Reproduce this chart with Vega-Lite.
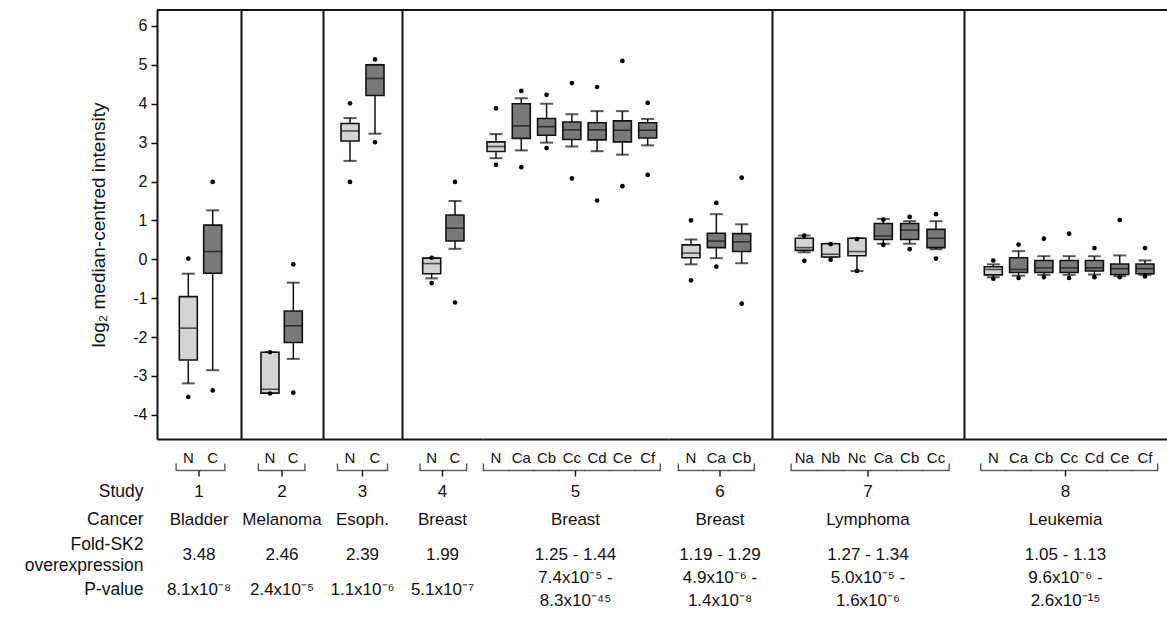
{
"$schema": "https://vega.github.io/schema/vega-lite/v6.json",
"padding": {"left": 24, "top": 9, "right": 0, "bottom": 0},
"background": "white",
"config": {"view": {"stroke": null}, "font": "Liberation Sans", "axis": {"grid": false}},
"datasets": {
"boxes": [
{"study":1,"group":"N","tissue":"Normal","lo":-3.19,"q1":-2.59,"med":-1.77,"q3":-0.96,"hi":-0.37,"olo":-3.54,"ohi":0.02},
{"study":1,"group":"C","tissue":"Cancer","lo":-2.85,"q1":-0.36,"med":0.2,"q3":0.88,"hi":1.26,"olo":-3.37,"ohi":1.99},
{"study":2,"group":"N","tissue":"Normal","lo":-3.44,"q1":-3.44,"med":-3.34,"q3":-2.39,"hi":-2.39,"olo":-3.45,"ohi":-2.39},
{"study":2,"group":"C","tissue":"Cancer","lo":-2.56,"q1":-2.14,"med":-1.71,"q3":-1.33,"hi":-0.6,"olo":-3.43,"ohi":-0.13},
{"study":3,"group":"N","tissue":"Normal","lo":2.53,"q1":3.04,"med":3.3,"q3":3.49,"hi":3.63,"olo":1.99,"ohi":4.01},
{"study":3,"group":"C","tissue":"Cancer","lo":3.23,"q1":4.21,"med":4.65,"q3":5.0,"hi":5.0,"olo":3.01,"ohi":5.14},
{"study":4,"group":"N","tissue":"Normal","lo":-0.49,"q1":-0.37,"med":-0.11,"q3":0.03,"hi":0.03,"olo":-0.61,"ohi":0.04},
{"study":4,"group":"C","tissue":"Cancer","lo":0.27,"q1":0.47,"med":0.8,"q3":1.14,"hi":1.5,"olo":-1.11,"ohi":1.99},
{"study":5,"group":"N","tissue":"Normal","lo":2.6,"q1":2.77,"med":2.9,"q3":3.02,"hi":3.22,"olo":2.43,"ohi":3.88},
{"study":5,"group":"Ca","tissue":"Cancer","lo":2.8,"q1":3.11,"med":3.43,"q3":4.0,"hi":4.14,"olo":2.37,"ohi":4.33},
{"study":5,"group":"Cb","tissue":"Cancer","lo":3.0,"q1":3.19,"med":3.41,"q3":3.62,"hi":4.0,"olo":2.86,"ohi":4.23},
{"study":5,"group":"Cc","tissue":"Cancer","lo":2.9,"q1":3.08,"med":3.33,"q3":3.53,"hi":3.73,"olo":2.08,"ohi":4.53},
{"study":5,"group":"Cd","tissue":"Cancer","lo":2.78,"q1":3.07,"med":3.33,"q3":3.51,"hi":3.81,"olo":1.51,"ohi":4.43},
{"study":5,"group":"Ce","tissue":"Cancer","lo":2.69,"q1":3.02,"med":3.32,"q3":3.56,"hi":3.81,"olo":1.88,"ohi":5.1},
{"study":5,"group":"Cf","tissue":"Cancer","lo":2.93,"q1":3.12,"med":3.32,"q3":3.51,"hi":3.61,"olo":2.17,"ohi":4.02},
{"study":6,"group":"N","tissue":"Normal","lo":-0.13,"q1":0.04,"med":0.16,"q3":0.37,"hi":0.51,"olo":-0.54,"ohi":1.0},
{"study":6,"group":"Ca","tissue":"Cancer","lo":0.03,"q1":0.3,"med":0.47,"q3":0.67,"hi":1.16,"olo":-0.19,"ohi":1.45},
{"study":6,"group":"Cb","tissue":"Cancer","lo":-0.1,"q1":0.2,"med":0.45,"q3":0.66,"hi":0.9,"olo":-1.14,"ohi":2.1},
{"study":7,"group":"Na","tissue":"Normal","lo":0.18,"q1":0.23,"med":0.3,"q3":0.54,"hi":0.61,"olo":-0.04,"ohi":0.61},
{"study":7,"group":"Nb","tissue":"Normal","lo":0.06,"q1":0.06,"med":0.13,"q3":0.4,"hi":0.4,"olo":-0.01,"ohi":0.39},
{"study":7,"group":"Nc","tissue":"Normal","lo":-0.3,"q1":0.09,"med":0.2,"q3":0.54,"hi":0.54,"olo":-0.3,"ohi":0.52},
{"study":7,"group":"Ca","tissue":"Cancer","lo":0.4,"q1":0.51,"med":0.6,"q3":0.92,"hi":1.04,"olo":0.37,"ohi":1.02},
{"study":7,"group":"Cb","tissue":"Cancer","lo":0.4,"q1":0.51,"med":0.75,"q3":0.92,"hi":0.98,"olo":0.26,"ohi":1.09},
{"study":7,"group":"Cc","tissue":"Cancer","lo":0.26,"q1":0.3,"med":0.54,"q3":0.77,"hi":0.98,"olo":0.02,"ohi":1.16},
{"study":8,"group":"N","tissue":"Normal","lo":-0.46,"q1":-0.4,"med":-0.26,"q3":-0.19,"hi":-0.13,"olo":-0.5,"ohi":-0.03},
{"study":8,"group":"Ca","tissue":"Cancer","lo":-0.42,"q1":-0.34,"med":-0.26,"q3":0.04,"hi":0.21,"olo":-0.48,"ohi":0.38},
{"study":8,"group":"Cb","tissue":"Cancer","lo":-0.4,"q1":-0.34,"med":-0.22,"q3":-0.03,"hi":0.08,"olo":-0.46,"ohi":0.53},
{"study":8,"group":"Cc","tissue":"Cancer","lo":-0.4,"q1":-0.34,"med":-0.22,"q3":-0.03,"hi":0.08,"olo":-0.48,"ohi":0.66},
{"study":8,"group":"Cd","tissue":"Cancer","lo":-0.39,"q1":-0.3,"med":-0.22,"q3":-0.03,"hi":0.08,"olo":-0.46,"ohi":0.29},
{"study":8,"group":"Ce","tissue":"Cancer","lo":-0.43,"q1":-0.39,"med":-0.24,"q3":-0.12,"hi":0.1,"olo":-0.46,"ohi":1.01},
{"study":8,"group":"Cf","tissue":"Cancer","lo":-0.4,"q1":-0.37,"med":-0.24,"q3":-0.12,"hi":-0.03,"olo":-0.44,"ohi":0.29}
],
"table": [
{"study":1,"row":"Study","text":"1"},{"study":1,"row":"Cancer","text":"Bladder"},{"study":1,"row":"Fold","text":"3.48"},{"study":1,"row":"P","text":"8.1x10⁻⁸"},
{"study":2,"row":"Study","text":"2"},{"study":2,"row":"Cancer","text":"Melanoma"},{"study":2,"row":"Fold","text":"2.46"},{"study":2,"row":"P","text":"2.4x10⁻⁵"},
{"study":3,"row":"Study","text":"3"},{"study":3,"row":"Cancer","text":"Esoph."},{"study":3,"row":"Fold","text":"2.39"},{"study":3,"row":"P","text":"1.1x10⁻⁶"},
{"study":4,"row":"Study","text":"4"},{"study":4,"row":"Cancer","text":"Breast"},{"study":4,"row":"Fold","text":"1.99"},{"study":4,"row":"P","text":"5.1x10⁻⁷"},
{"study":5,"row":"Study","text":"5"},{"study":5,"row":"Cancer","text":"Breast"},{"study":5,"row":"Fold","text":"1.25 - 1.44"},{"study":5,"row":"P","text":"7.4x10⁻⁵ -|8.3x10⁻⁴⁵"},
{"study":6,"row":"Study","text":"6"},{"study":6,"row":"Cancer","text":"Breast"},{"study":6,"row":"Fold","text":"1.19 - 1.29"},{"study":6,"row":"P","text":"4.9x10⁻⁶ -|1.4x10⁻⁸"},
{"study":7,"row":"Study","text":"7"},{"study":7,"row":"Cancer","text":"Lymphoma"},{"study":7,"row":"Fold","text":"1.27 - 1.34"},{"study":7,"row":"P","text":"5.0x10⁻⁵ -|1.6x10⁻⁶"},
{"study":8,"row":"Study","text":"8"},{"study":8,"row":"Cancer","text":"Leukemia"},{"study":8,"row":"Fold","text":"1.05 - 1.13"},{"study":8,"row":"P","text":"9.6x10⁻⁶ -|2.6x10⁻¹⁵"}
]
},
"columns": 8,
"align": "each",
"bounds": "flush",
"spacing": {"row": 0, "column": 0},
"concat": [
{"width": 84, "height": 429, "data": {"name": "boxes"}, "transform": [{"filter": "datum.study == 1"}], "resolve": {"axis": {"x": "independent", "y": "independent"}},
 "layer": [
  {"mark": {"type": "rule", "color": "#111", "strokeWidth": 1.5}, "encoding": {"x": {"field": "group", "type": "nominal", "scale": {"domain": ["N","C"], "paddingInner": 0, "paddingOuter": 0.7213, "align": 0.5426}, "axis": {"title": null, "labelAngle": 0, "labelFontSize": 15, "labelColor": "#111", "labelPadding": 11, "ticks": false, "tickSize": 0, "domainColor": "#111", "domainWidth": 2}}, "y": {"field": "lo", "type": "quantitative", "scale": {"domain": [-4.62, 6.41], "nice": false, "zero": false}, "axis": {"values": [-4,-3,-2,-1,0,1,2,3,4,5,6], "labelExpr": "'' + datum.value", "title": "log₂ median-centred intensity", "titleFontSize": 19, "titleFontWeight": "normal", "titleColor": "#111", "titlePadding": 24, "labelFontSize": 16, "labelColor": "#111", "labelPadding": 4, "tickSize": 6, "tickColor": "#111", "tickWidth": 1.5, "domainColor": "#111", "domainWidth": 2}}, "y2": {"field": "hi"}}},
  {"mark": {"type": "tick", "orient": "horizontal", "size": 13, "thickness": 2, "color": "#111"}, "encoding": {"x": {"field": "group", "type": "nominal", "axis": null}, "y": {"field": "lo", "type": "quantitative", "axis": null}}},
  {"mark": {"type": "tick", "orient": "horizontal", "size": 13, "thickness": 2, "color": "#111"}, "encoding": {"x": {"field": "group", "type": "nominal", "axis": null}, "y": {"field": "hi", "type": "quantitative", "axis": null}}},
  {"mark": {"type": "bar", "width": 18, "stroke": "#111", "strokeWidth": 1.6}, "encoding": {"x": {"field": "group", "type": "nominal", "axis": null}, "y": {"field": "q1", "type": "quantitative", "axis": null}, "y2": {"field": "q3"}, "fill": {"field": "tissue", "type": "nominal", "scale": {"domain": ["Normal","Cancer"], "range": ["#d3d3d3","#797979"]}, "legend": null}}},
  {"mark": {"type": "tick", "orient": "horizontal", "size": 18, "thickness": 1.6, "color": "#111"}, "encoding": {"x": {"field": "group", "type": "nominal", "axis": null}, "y": {"field": "med", "type": "quantitative", "axis": null}}},
  {"mark": {"type": "circle", "size": 22, "color": "#000", "opacity": 1}, "encoding": {"x": {"field": "group", "type": "nominal", "axis": null}, "y": {"field": "ohi", "type": "quantitative", "axis": null}}},
  {"mark": {"type": "circle", "size": 22, "color": "#000", "opacity": 1}, "encoding": {"x": {"field": "group", "type": "nominal", "axis": null}, "y": {"field": "olo", "type": "quantitative", "axis": null}}},
  {"transform": [{"aggregate": [{"op": "count", "as": "n"}]}], "mark": {"type": "rule", "color": "#111", "strokeWidth": 2}, "encoding": {"y": {"datum": 6.41, "type": "quantitative", "axis": null}}}
 ]},
{"width": 82, "height": 429, "data": {"name": "boxes"}, "transform": [{"filter": "datum.study == 2"}], "resolve": {"axis": {"x": "independent", "y": "independent"}},
 "layer": [
  {"mark": {"type": "rule", "color": "#111", "strokeWidth": 1.5}, "encoding": {"x": {"field": "group", "type": "nominal", "scale": {"domain": ["N","C"], "paddingInner": 0, "paddingOuter": 0.7597, "align": 0.49}, "axis": {"title": null, "labelAngle": 0, "labelFontSize": 15, "labelColor": "#111", "labelPadding": 11, "ticks": false, "tickSize": 0, "domainColor": "#111", "domainWidth": 2}}, "y": {"field": "lo", "type": "quantitative", "scale": {"domain": [-4.62, 6.41], "nice": false, "zero": false}, "axis": {"labels": false, "ticks": false, "title": null, "domainColor": "#111", "domainWidth": 2}}, "y2": {"field": "hi"}}},
  {"mark": {"type": "tick", "orient": "horizontal", "size": 13, "thickness": 2, "color": "#111"}, "encoding": {"x": {"field": "group", "type": "nominal", "axis": null}, "y": {"field": "lo", "type": "quantitative", "axis": null}}},
  {"mark": {"type": "tick", "orient": "horizontal", "size": 13, "thickness": 2, "color": "#111"}, "encoding": {"x": {"field": "group", "type": "nominal", "axis": null}, "y": {"field": "hi", "type": "quantitative", "axis": null}}},
  {"mark": {"type": "bar", "width": 18, "stroke": "#111", "strokeWidth": 1.6}, "encoding": {"x": {"field": "group", "type": "nominal", "axis": null}, "y": {"field": "q1", "type": "quantitative", "axis": null}, "y2": {"field": "q3"}, "fill": {"field": "tissue", "type": "nominal", "scale": {"domain": ["Normal","Cancer"], "range": ["#d3d3d3","#797979"]}, "legend": null}}},
  {"mark": {"type": "tick", "orient": "horizontal", "size": 18, "thickness": 1.6, "color": "#111"}, "encoding": {"x": {"field": "group", "type": "nominal", "axis": null}, "y": {"field": "med", "type": "quantitative", "axis": null}}},
  {"mark": {"type": "circle", "size": 22, "color": "#000", "opacity": 1}, "encoding": {"x": {"field": "group", "type": "nominal", "axis": null}, "y": {"field": "ohi", "type": "quantitative", "axis": null}}},
  {"mark": {"type": "circle", "size": 22, "color": "#000", "opacity": 1}, "encoding": {"x": {"field": "group", "type": "nominal", "axis": null}, "y": {"field": "olo", "type": "quantitative", "axis": null}}},
  {"transform": [{"aggregate": [{"op": "count", "as": "n"}]}], "mark": {"type": "rule", "color": "#111", "strokeWidth": 2}, "encoding": {"y": {"datum": 6.41, "type": "quantitative", "axis": null}}}
 ]},
{"width": 79, "height": 429, "data": {"name": "boxes"}, "transform": [{"filter": "datum.study == 3"}], "resolve": {"axis": {"x": "independent", "y": "independent"}},
 "layer": [
  {"mark": {"type": "rule", "color": "#111", "strokeWidth": 1.5}, "encoding": {"x": {"field": "group", "type": "nominal", "scale": {"domain": ["N","C"], "paddingInner": 0, "paddingOuter": 0.58, "align": 0.5}, "axis": {"title": null, "labelAngle": 0, "labelFontSize": 15, "labelColor": "#111", "labelPadding": 11, "ticks": false, "tickSize": 0, "domainColor": "#111", "domainWidth": 2}}, "y": {"field": "lo", "type": "quantitative", "scale": {"domain": [-4.62, 6.41], "nice": false, "zero": false}, "axis": {"labels": false, "ticks": false, "title": null, "domainColor": "#111", "domainWidth": 2}}, "y2": {"field": "hi"}}},
  {"mark": {"type": "tick", "orient": "horizontal", "size": 13, "thickness": 2, "color": "#111"}, "encoding": {"x": {"field": "group", "type": "nominal", "axis": null}, "y": {"field": "lo", "type": "quantitative", "axis": null}}},
  {"mark": {"type": "tick", "orient": "horizontal", "size": 13, "thickness": 2, "color": "#111"}, "encoding": {"x": {"field": "group", "type": "nominal", "axis": null}, "y": {"field": "hi", "type": "quantitative", "axis": null}}},
  {"mark": {"type": "bar", "width": 18, "stroke": "#111", "strokeWidth": 1.6}, "encoding": {"x": {"field": "group", "type": "nominal", "axis": null}, "y": {"field": "q1", "type": "quantitative", "axis": null}, "y2": {"field": "q3"}, "fill": {"field": "tissue", "type": "nominal", "scale": {"domain": ["Normal","Cancer"], "range": ["#d3d3d3","#797979"]}, "legend": null}}},
  {"mark": {"type": "tick", "orient": "horizontal", "size": 18, "thickness": 1.6, "color": "#111"}, "encoding": {"x": {"field": "group", "type": "nominal", "axis": null}, "y": {"field": "med", "type": "quantitative", "axis": null}}},
  {"mark": {"type": "circle", "size": 22, "color": "#000", "opacity": 1}, "encoding": {"x": {"field": "group", "type": "nominal", "axis": null}, "y": {"field": "ohi", "type": "quantitative", "axis": null}}},
  {"mark": {"type": "circle", "size": 22, "color": "#000", "opacity": 1}, "encoding": {"x": {"field": "group", "type": "nominal", "axis": null}, "y": {"field": "olo", "type": "quantitative", "axis": null}}},
  {"transform": [{"aggregate": [{"op": "count", "as": "n"}]}], "mark": {"type": "rule", "color": "#111", "strokeWidth": 2}, "encoding": {"y": {"datum": 6.41, "type": "quantitative", "axis": null}}}
 ]},
{"width": 81, "height": 429, "data": {"name": "boxes"}, "transform": [{"filter": "datum.study == 4"}], "resolve": {"axis": {"x": "independent", "y": "independent"}},
 "layer": [
  {"mark": {"type": "rule", "color": "#111", "strokeWidth": 1.5}, "encoding": {"x": {"field": "group", "type": "nominal", "scale": {"domain": ["N","C"], "paddingInner": 0, "paddingOuter": 0.738, "align": 0.5247}, "axis": {"title": null, "labelAngle": 0, "labelFontSize": 15, "labelColor": "#111", "labelPadding": 11, "ticks": false, "tickSize": 0, "domainColor": "#111", "domainWidth": 2}}, "y": {"field": "lo", "type": "quantitative", "scale": {"domain": [-4.62, 6.41], "nice": false, "zero": false}, "axis": {"labels": false, "ticks": false, "title": null, "domainColor": "#111", "domainWidth": 2}}, "y2": {"field": "hi"}}},
  {"mark": {"type": "tick", "orient": "horizontal", "size": 13, "thickness": 2, "color": "#111"}, "encoding": {"x": {"field": "group", "type": "nominal", "axis": null}, "y": {"field": "lo", "type": "quantitative", "axis": null}}},
  {"mark": {"type": "tick", "orient": "horizontal", "size": 13, "thickness": 2, "color": "#111"}, "encoding": {"x": {"field": "group", "type": "nominal", "axis": null}, "y": {"field": "hi", "type": "quantitative", "axis": null}}},
  {"mark": {"type": "bar", "width": 18, "stroke": "#111", "strokeWidth": 1.6}, "encoding": {"x": {"field": "group", "type": "nominal", "axis": null}, "y": {"field": "q1", "type": "quantitative", "axis": null}, "y2": {"field": "q3"}, "fill": {"field": "tissue", "type": "nominal", "scale": {"domain": ["Normal","Cancer"], "range": ["#d3d3d3","#797979"]}, "legend": null}}},
  {"mark": {"type": "tick", "orient": "horizontal", "size": 18, "thickness": 1.6, "color": "#111"}, "encoding": {"x": {"field": "group", "type": "nominal", "axis": null}, "y": {"field": "med", "type": "quantitative", "axis": null}}},
  {"mark": {"type": "circle", "size": 22, "color": "#000", "opacity": 1}, "encoding": {"x": {"field": "group", "type": "nominal", "axis": null}, "y": {"field": "ohi", "type": "quantitative", "axis": null}}},
  {"mark": {"type": "circle", "size": 22, "color": "#000", "opacity": 1}, "encoding": {"x": {"field": "group", "type": "nominal", "axis": null}, "y": {"field": "olo", "type": "quantitative", "axis": null}}},
  {"transform": [{"aggregate": [{"op": "count", "as": "n"}]}], "mark": {"type": "rule", "color": "#111", "strokeWidth": 2}, "encoding": {"y": {"datum": 6.41, "type": "quantitative", "axis": null}}}
 ]},
{"width": 185, "height": 429, "data": {"name": "boxes"}, "transform": [{"filter": "datum.study == 5"}], "resolve": {"axis": {"x": "independent", "y": "independent"}},
 "layer": [
  {"mark": {"type": "rule", "color": "#111", "strokeWidth": 1.5}, "encoding": {"x": {"field": "group", "type": "nominal", "scale": {"domain": ["N","Ca","Cb","Cc","Cd","Ce","Cf"], "paddingInner": 0, "paddingOuter": 0.159, "align": 0.045}, "axis": {"title": null, "labelAngle": 0, "labelFontSize": 15, "labelColor": "#111", "labelPadding": 11, "ticks": false, "tickSize": 0, "domainColor": "#111", "domainWidth": 2}}, "y": {"field": "lo", "type": "quantitative", "scale": {"domain": [-4.62, 6.41], "nice": false, "zero": false}, "axis": null}, "y2": {"field": "hi"}}},
  {"mark": {"type": "tick", "orient": "horizontal", "size": 13, "thickness": 2, "color": "#111"}, "encoding": {"x": {"field": "group", "type": "nominal", "axis": null}, "y": {"field": "lo", "type": "quantitative", "axis": null}}},
  {"mark": {"type": "tick", "orient": "horizontal", "size": 13, "thickness": 2, "color": "#111"}, "encoding": {"x": {"field": "group", "type": "nominal", "axis": null}, "y": {"field": "hi", "type": "quantitative", "axis": null}}},
  {"mark": {"type": "bar", "width": 18, "stroke": "#111", "strokeWidth": 1.6}, "encoding": {"x": {"field": "group", "type": "nominal", "axis": null}, "y": {"field": "q1", "type": "quantitative", "axis": null}, "y2": {"field": "q3"}, "fill": {"field": "tissue", "type": "nominal", "scale": {"domain": ["Normal","Cancer"], "range": ["#d3d3d3","#797979"]}, "legend": null}}},
  {"mark": {"type": "tick", "orient": "horizontal", "size": 18, "thickness": 1.6, "color": "#111"}, "encoding": {"x": {"field": "group", "type": "nominal", "axis": null}, "y": {"field": "med", "type": "quantitative", "axis": null}}},
  {"mark": {"type": "circle", "size": 22, "color": "#000", "opacity": 1}, "encoding": {"x": {"field": "group", "type": "nominal", "axis": null}, "y": {"field": "ohi", "type": "quantitative", "axis": null}}},
  {"mark": {"type": "circle", "size": 22, "color": "#000", "opacity": 1}, "encoding": {"x": {"field": "group", "type": "nominal", "axis": null}, "y": {"field": "olo", "type": "quantitative", "axis": null}}},
  {"transform": [{"aggregate": [{"op": "count", "as": "n"}]}], "mark": {"type": "rule", "color": "#111", "strokeWidth": 2}, "encoding": {"y": {"datum": 6.41, "type": "quantitative", "axis": null}}}
 ]},
{"width": 104, "height": 429, "data": {"name": "boxes"}, "transform": [{"filter": "datum.study == 6"}], "resolve": {"axis": {"x": "independent", "y": "independent"}},
 "layer": [
  {"mark": {"type": "rule", "color": "#111", "strokeWidth": 1.5}, "encoding": {"x": {"field": "group", "type": "nominal", "scale": {"domain": ["N","Ca","Cb"], "paddingInner": 0, "paddingOuter": 0.551, "align": 0.369}, "axis": {"title": null, "labelAngle": 0, "labelFontSize": 15, "labelColor": "#111", "labelPadding": 11, "ticks": false, "tickSize": 0, "domainColor": "#111", "domainWidth": 2}}, "y": {"field": "lo", "type": "quantitative", "scale": {"domain": [-4.62, 6.41], "nice": false, "zero": false}, "axis": null}, "y2": {"field": "hi"}}},
  {"mark": {"type": "tick", "orient": "horizontal", "size": 13, "thickness": 2, "color": "#111"}, "encoding": {"x": {"field": "group", "type": "nominal", "axis": null}, "y": {"field": "lo", "type": "quantitative", "axis": null}}},
  {"mark": {"type": "tick", "orient": "horizontal", "size": 13, "thickness": 2, "color": "#111"}, "encoding": {"x": {"field": "group", "type": "nominal", "axis": null}, "y": {"field": "hi", "type": "quantitative", "axis": null}}},
  {"mark": {"type": "bar", "width": 18, "stroke": "#111", "strokeWidth": 1.6}, "encoding": {"x": {"field": "group", "type": "nominal", "axis": null}, "y": {"field": "q1", "type": "quantitative", "axis": null}, "y2": {"field": "q3"}, "fill": {"field": "tissue", "type": "nominal", "scale": {"domain": ["Normal","Cancer"], "range": ["#d3d3d3","#797979"]}, "legend": null}}},
  {"mark": {"type": "tick", "orient": "horizontal", "size": 18, "thickness": 1.6, "color": "#111"}, "encoding": {"x": {"field": "group", "type": "nominal", "axis": null}, "y": {"field": "med", "type": "quantitative", "axis": null}}},
  {"mark": {"type": "circle", "size": 22, "color": "#000", "opacity": 1}, "encoding": {"x": {"field": "group", "type": "nominal", "axis": null}, "y": {"field": "ohi", "type": "quantitative", "axis": null}}},
  {"mark": {"type": "circle", "size": 22, "color": "#000", "opacity": 1}, "encoding": {"x": {"field": "group", "type": "nominal", "axis": null}, "y": {"field": "olo", "type": "quantitative", "axis": null}}},
  {"transform": [{"aggregate": [{"op": "count", "as": "n"}]}], "mark": {"type": "rule", "color": "#111", "strokeWidth": 2}, "encoding": {"y": {"datum": 6.41, "type": "quantitative", "axis": null}}}
 ]},
{"width": 192, "height": 429, "data": {"name": "boxes"}, "transform": [{"filter": "datum.study == 7"}], "resolve": {"axis": {"x": "independent", "y": "independent"}},
 "layer": [
  {"mark": {"type": "rule", "color": "#111", "strokeWidth": 1.5}, "encoding": {"x": {"field": "group", "type": "nominal", "scale": {"domain": ["Na","Nb","Nc","Ca","Cb","Cc"], "paddingInner": 0, "paddingOuter": 0.6446, "align": 0.563}, "axis": {"title": null, "labelAngle": 0, "labelFontSize": 15, "labelColor": "#111", "labelPadding": 11, "ticks": false, "tickSize": 0, "domainColor": "#111", "domainWidth": 2}}, "y": {"field": "lo", "type": "quantitative", "scale": {"domain": [-4.62, 6.41], "nice": false, "zero": false}, "axis": {"labels": false, "ticks": false, "title": null, "domainColor": "#111", "domainWidth": 2}}, "y2": {"field": "hi"}}},
  {"mark": {"type": "tick", "orient": "horizontal", "size": 13, "thickness": 2, "color": "#111"}, "encoding": {"x": {"field": "group", "type": "nominal", "axis": null}, "y": {"field": "lo", "type": "quantitative", "axis": null}}},
  {"mark": {"type": "tick", "orient": "horizontal", "size": 13, "thickness": 2, "color": "#111"}, "encoding": {"x": {"field": "group", "type": "nominal", "axis": null}, "y": {"field": "hi", "type": "quantitative", "axis": null}}},
  {"mark": {"type": "bar", "width": 18, "stroke": "#111", "strokeWidth": 1.6}, "encoding": {"x": {"field": "group", "type": "nominal", "axis": null}, "y": {"field": "q1", "type": "quantitative", "axis": null}, "y2": {"field": "q3"}, "fill": {"field": "tissue", "type": "nominal", "scale": {"domain": ["Normal","Cancer"], "range": ["#d3d3d3","#797979"]}, "legend": null}}},
  {"mark": {"type": "tick", "orient": "horizontal", "size": 18, "thickness": 1.6, "color": "#111"}, "encoding": {"x": {"field": "group", "type": "nominal", "axis": null}, "y": {"field": "med", "type": "quantitative", "axis": null}}},
  {"mark": {"type": "circle", "size": 22, "color": "#000", "opacity": 1}, "encoding": {"x": {"field": "group", "type": "nominal", "axis": null}, "y": {"field": "ohi", "type": "quantitative", "axis": null}}},
  {"mark": {"type": "circle", "size": 22, "color": "#000", "opacity": 1}, "encoding": {"x": {"field": "group", "type": "nominal", "axis": null}, "y": {"field": "olo", "type": "quantitative", "axis": null}}},
  {"transform": [{"aggregate": [{"op": "count", "as": "n"}]}], "mark": {"type": "rule", "color": "#111", "strokeWidth": 2}, "encoding": {"y": {"datum": 6.41, "type": "quantitative", "axis": null}}}
 ]},
{"width": 203, "height": 429, "data": {"name": "boxes"}, "transform": [{"filter": "datum.study == 8"}], "resolve": {"axis": {"x": "independent", "y": "independent"}},
 "layer": [
  {"mark": {"type": "rule", "color": "#111", "strokeWidth": 1.5}, "encoding": {"x": {"field": "group", "type": "nominal", "scale": {"domain": ["N","Ca","Cb","Cc","Cd","Ce","Cf"], "paddingInner": 0, "paddingOuter": 0.515, "align": 0.64}, "axis": {"title": null, "labelAngle": 0, "labelFontSize": 15, "labelColor": "#111", "labelPadding": 11, "ticks": false, "tickSize": 0, "domainColor": "#111", "domainWidth": 2}}, "y": {"field": "lo", "type": "quantitative", "scale": {"domain": [-4.62, 6.41], "nice": false, "zero": false}, "axis": {"labels": false, "ticks": false, "title": null, "domainColor": "#111", "domainWidth": 2}}, "y2": {"field": "hi"}}},
  {"mark": {"type": "tick", "orient": "horizontal", "size": 13, "thickness": 2, "color": "#111"}, "encoding": {"x": {"field": "group", "type": "nominal", "axis": null}, "y": {"field": "lo", "type": "quantitative", "axis": null}}},
  {"mark": {"type": "tick", "orient": "horizontal", "size": 13, "thickness": 2, "color": "#111"}, "encoding": {"x": {"field": "group", "type": "nominal", "axis": null}, "y": {"field": "hi", "type": "quantitative", "axis": null}}},
  {"mark": {"type": "bar", "width": 18, "stroke": "#111", "strokeWidth": 1.6}, "encoding": {"x": {"field": "group", "type": "nominal", "axis": null}, "y": {"field": "q1", "type": "quantitative", "axis": null}, "y2": {"field": "q3"}, "fill": {"field": "tissue", "type": "nominal", "scale": {"domain": ["Normal","Cancer"], "range": ["#d3d3d3","#797979"]}, "legend": null}}},
  {"mark": {"type": "tick", "orient": "horizontal", "size": 18, "thickness": 1.6, "color": "#111"}, "encoding": {"x": {"field": "group", "type": "nominal", "axis": null}, "y": {"field": "med", "type": "quantitative", "axis": null}}},
  {"mark": {"type": "circle", "size": 22, "color": "#000", "opacity": 1}, "encoding": {"x": {"field": "group", "type": "nominal", "axis": null}, "y": {"field": "ohi", "type": "quantitative", "axis": null}}},
  {"mark": {"type": "circle", "size": 22, "color": "#000", "opacity": 1}, "encoding": {"x": {"field": "group", "type": "nominal", "axis": null}, "y": {"field": "olo", "type": "quantitative", "axis": null}}},
  {"transform": [{"aggregate": [{"op": "count", "as": "n"}]}], "mark": {"type": "rule", "color": "#111", "strokeWidth": 2}, "encoding": {"y": {"datum": 6.41, "type": "quantitative", "axis": null}}}
 ]},

{"width": 84, "height": 154, "resolve": {"axis": {"x": "independent", "y": "independent"}},
 "layer": [
  {"data": {"name": "boxes"}, "transform": [{"filter": "datum.study == 1"}], "mark": {"type": "tick", "orient": "horizontal", "size": 25, "thickness": 1.4, "color": "#111"}, "encoding": {"x": {"field": "group", "type": "nominal", "scale": {"domain": ["N","C"], "paddingInner": 0, "paddingOuter": 0.7213, "align": 0.5426}, "axis": null}, "y": {"datum": "brace", "type": "nominal", "axis": null}}},
  {"data": {"name": "boxes"}, "transform": [{"filter": "datum.study == 1"}, {"window": [{"op": "row_number", "as": "rn"}]}, {"filter": "datum.rn == 1"}], "mark": {"type": "tick", "orient": "vertical", "size": 7, "thickness": 1.4, "yOffset": -3.5, "color": "#111"}, "encoding": {"x": {"field": "group", "type": "nominal", "bandPosition": 0, "axis": null}, "y": {"datum": "brace", "type": "nominal", "axis": null}}},
  {"data": {"name": "boxes"}, "transform": [{"filter": "datum.study == 1"}, {"joinaggregate": [{"op": "count", "as": "n"}]}, {"window": [{"op": "row_number", "as": "rn"}]}, {"filter": "datum.rn == datum.n"}], "mark": {"type": "tick", "orient": "vertical", "size": 7, "thickness": 1.4, "yOffset": -3.5, "color": "#111"}, "encoding": {"x": {"field": "group", "type": "nominal", "bandPosition": 1, "axis": null}, "y": {"datum": "brace", "type": "nominal", "axis": null}}},
  {"data": {"name": "boxes"}, "transform": [{"filter": "datum.study == 1"}, {"aggregate": [{"op": "count", "as": "n"}]}], "mark": {"type": "point", "shape": "M0,0L0,1", "size": 144, "filled": false, "stroke": "#111", "strokeWidth": 1.4, "opacity": 1}, "encoding": {"y": {"datum": "brace", "type": "nominal", "axis": null}}},
  {"data": {"name": "table"}, "transform": [{"filter": "datum.study == 1 && indexof(datum.text, '|') < 0"}], "mark": {"type": "text", "fontSize": 17, "baseline": "middle", "align": "center", "color": "#111"}, "encoding": {"y": {"field": "row", "type": "nominal", "scale": {"type": "point", "domain": ["t0","t1","t2","t3","brace","b1","b2","Study","g1","g2","g3","Cancer","g5","g6","g7","g8","Fold","g10","g11","g12","g13","P"], "padding": 0.5}, "axis": {"title": null, "domain": false, "ticks": false, "labelPadding": 14, "labelFontSize": 17.5, "labelColor": "#111", "labelLineHeight": 21, "labelOverlap": false, "labelOffset": {"condition": {"test": "datum.value == 'Fold'", "value": -10.5}, "value": 0}, "labelExpr": "datum.value == 'Fold' ? ['Fold-SK2', 'overexpression'] : datum.value == 'P' ? 'P-value' : (datum.value == 'Study' || datum.value == 'Cancer') ? datum.value : ''"}}, "text": {"field": "text"}}}
 ]},
{"width": 82, "height": 154, "resolve": {"axis": {"x": "independent", "y": "independent"}},
 "layer": [
  {"data": {"name": "boxes"}, "transform": [{"filter": "datum.study == 2"}], "mark": {"type": "tick", "orient": "horizontal", "size": 24, "thickness": 1.4, "color": "#111"}, "encoding": {"x": {"field": "group", "type": "nominal", "scale": {"domain": ["N","C"], "paddingInner": 0, "paddingOuter": 0.7597, "align": 0.49}, "axis": null}, "y": {"datum": "brace", "type": "nominal", "axis": null}}},
  {"data": {"name": "boxes"}, "transform": [{"filter": "datum.study == 2"}, {"window": [{"op": "row_number", "as": "rn"}]}, {"filter": "datum.rn == 1"}], "mark": {"type": "tick", "orient": "vertical", "size": 7, "thickness": 1.4, "yOffset": -3.5, "color": "#111"}, "encoding": {"x": {"field": "group", "type": "nominal", "bandPosition": 0, "axis": null}, "y": {"datum": "brace", "type": "nominal", "axis": null}}},
  {"data": {"name": "boxes"}, "transform": [{"filter": "datum.study == 2"}, {"joinaggregate": [{"op": "count", "as": "n"}]}, {"window": [{"op": "row_number", "as": "rn"}]}, {"filter": "datum.rn == datum.n"}], "mark": {"type": "tick", "orient": "vertical", "size": 7, "thickness": 1.4, "yOffset": -3.5, "color": "#111"}, "encoding": {"x": {"field": "group", "type": "nominal", "bandPosition": 1, "axis": null}, "y": {"datum": "brace", "type": "nominal", "axis": null}}},
  {"data": {"name": "boxes"}, "transform": [{"filter": "datum.study == 2"}, {"aggregate": [{"op": "count", "as": "n"}]}], "mark": {"type": "point", "shape": "M0,0L0,1", "size": 144, "filled": false, "stroke": "#111", "strokeWidth": 1.4, "opacity": 1}, "encoding": {"y": {"datum": "brace", "type": "nominal", "axis": null}}},
  {"data": {"name": "table"}, "transform": [{"filter": "datum.study == 2"}], "mark": {"type": "text", "fontSize": 17, "baseline": "middle", "align": "center", "color": "#111"}, "encoding": {"y": {"field": "row", "type": "nominal", "scale": {"type": "point", "domain": ["t0","t1","t2","t3","brace","b1","b2","Study","g1","g2","g3","Cancer","g5","g6","g7","g8","Fold","g10","g11","g12","g13","P"], "padding": 0.5}, "axis": null}, "text": {"field": "text"}}}
 ]},
{"width": 79, "height": 154, "resolve": {"axis": {"x": "independent", "y": "independent"}},
 "layer": [
  {"data": {"name": "boxes"}, "transform": [{"filter": "datum.study == 3"}], "mark": {"type": "tick", "orient": "horizontal", "size": 25.6, "thickness": 1.4, "color": "#111"}, "encoding": {"x": {"field": "group", "type": "nominal", "scale": {"domain": ["N","C"], "paddingInner": 0, "paddingOuter": 0.58, "align": 0.5}, "axis": null}, "y": {"datum": "brace", "type": "nominal", "axis": null}}},
  {"data": {"name": "boxes"}, "transform": [{"filter": "datum.study == 3"}, {"window": [{"op": "row_number", "as": "rn"}]}, {"filter": "datum.rn == 1"}], "mark": {"type": "tick", "orient": "vertical", "size": 7, "thickness": 1.4, "yOffset": -3.5, "color": "#111"}, "encoding": {"x": {"field": "group", "type": "nominal", "bandPosition": 0, "axis": null}, "y": {"datum": "brace", "type": "nominal", "axis": null}}},
  {"data": {"name": "boxes"}, "transform": [{"filter": "datum.study == 3"}, {"joinaggregate": [{"op": "count", "as": "n"}]}, {"window": [{"op": "row_number", "as": "rn"}]}, {"filter": "datum.rn == datum.n"}], "mark": {"type": "tick", "orient": "vertical", "size": 7, "thickness": 1.4, "yOffset": -3.5, "color": "#111"}, "encoding": {"x": {"field": "group", "type": "nominal", "bandPosition": 1, "axis": null}, "y": {"datum": "brace", "type": "nominal", "axis": null}}},
  {"data": {"name": "boxes"}, "transform": [{"filter": "datum.study == 3"}, {"aggregate": [{"op": "count", "as": "n"}]}], "mark": {"type": "point", "shape": "M0,0L0,1", "size": 144, "filled": false, "stroke": "#111", "strokeWidth": 1.4, "opacity": 1}, "encoding": {"y": {"datum": "brace", "type": "nominal", "axis": null}}},
  {"data": {"name": "table"}, "transform": [{"filter": "datum.study == 3"}], "mark": {"type": "text", "fontSize": 17, "baseline": "middle", "align": "center", "color": "#111"}, "encoding": {"y": {"field": "row", "type": "nominal", "scale": {"type": "point", "domain": ["t0","t1","t2","t3","brace","b1","b2","Study","g1","g2","g3","Cancer","g5","g6","g7","g8","Fold","g10","g11","g12","g13","P"], "padding": 0.5}, "axis": null}, "text": {"field": "text"}}}
 ]},
{"width": 81, "height": 154, "resolve": {"axis": {"x": "independent", "y": "independent"}},
 "layer": [
  {"data": {"name": "boxes"}, "transform": [{"filter": "datum.study == 4"}], "mark": {"type": "tick", "orient": "horizontal", "size": 24, "thickness": 1.4, "color": "#111"}, "encoding": {"x": {"field": "group", "type": "nominal", "scale": {"domain": ["N","C"], "paddingInner": 0, "paddingOuter": 0.738, "align": 0.5247}, "axis": null}, "y": {"datum": "brace", "type": "nominal", "axis": null}}},
  {"data": {"name": "boxes"}, "transform": [{"filter": "datum.study == 4"}, {"window": [{"op": "row_number", "as": "rn"}]}, {"filter": "datum.rn == 1"}], "mark": {"type": "tick", "orient": "vertical", "size": 7, "thickness": 1.4, "yOffset": -3.5, "color": "#111"}, "encoding": {"x": {"field": "group", "type": "nominal", "bandPosition": 0, "axis": null}, "y": {"datum": "brace", "type": "nominal", "axis": null}}},
  {"data": {"name": "boxes"}, "transform": [{"filter": "datum.study == 4"}, {"joinaggregate": [{"op": "count", "as": "n"}]}, {"window": [{"op": "row_number", "as": "rn"}]}, {"filter": "datum.rn == datum.n"}], "mark": {"type": "tick", "orient": "vertical", "size": 7, "thickness": 1.4, "yOffset": -3.5, "color": "#111"}, "encoding": {"x": {"field": "group", "type": "nominal", "bandPosition": 1, "axis": null}, "y": {"datum": "brace", "type": "nominal", "axis": null}}},
  {"data": {"name": "boxes"}, "transform": [{"filter": "datum.study == 4"}, {"aggregate": [{"op": "count", "as": "n"}]}], "mark": {"type": "point", "shape": "M0,0L0,1", "size": 144, "filled": false, "stroke": "#111", "strokeWidth": 1.4, "opacity": 1}, "encoding": {"y": {"datum": "brace", "type": "nominal", "axis": null}}},
  {"data": {"name": "table"}, "transform": [{"filter": "datum.study == 4"}], "mark": {"type": "text", "fontSize": 17, "baseline": "middle", "align": "center", "color": "#111"}, "encoding": {"y": {"field": "row", "type": "nominal", "scale": {"type": "point", "domain": ["t0","t1","t2","t3","brace","b1","b2","Study","g1","g2","g3","Cancer","g5","g6","g7","g8","Fold","g10","g11","g12","g13","P"], "padding": 0.5}, "axis": null}, "text": {"field": "text"}}}
 ]},
{"width": 185, "height": 154, "resolve": {"axis": {"x": "independent", "y": "independent"}},
 "layer": [
  {"data": {"name": "boxes"}, "transform": [{"filter": "datum.study == 5"}], "mark": {"type": "tick", "orient": "horizontal", "size": 25.9, "thickness": 1.4, "color": "#111"}, "encoding": {"x": {"field": "group", "type": "nominal", "scale": {"domain": ["N","Ca","Cb","Cc","Cd","Ce","Cf"], "paddingInner": 0, "paddingOuter": 0.159, "align": 0.045}, "axis": null}, "y": {"datum": "brace", "type": "nominal", "axis": null}}},
  {"data": {"name": "boxes"}, "transform": [{"filter": "datum.study == 5"}, {"window": [{"op": "row_number", "as": "rn"}]}, {"filter": "datum.rn == 1"}], "mark": {"type": "tick", "orient": "vertical", "size": 7, "thickness": 1.4, "yOffset": -3.5, "color": "#111"}, "encoding": {"x": {"field": "group", "type": "nominal", "bandPosition": 0, "axis": null}, "y": {"datum": "brace", "type": "nominal", "axis": null}}},
  {"data": {"name": "boxes"}, "transform": [{"filter": "datum.study == 5"}, {"joinaggregate": [{"op": "count", "as": "n"}]}, {"window": [{"op": "row_number", "as": "rn"}]}, {"filter": "datum.rn == datum.n"}], "mark": {"type": "tick", "orient": "vertical", "size": 7, "thickness": 1.4, "yOffset": -3.5, "color": "#111"}, "encoding": {"x": {"field": "group", "type": "nominal", "bandPosition": 1, "axis": null}, "y": {"datum": "brace", "type": "nominal", "axis": null}}},
  {"data": {"name": "boxes"}, "transform": [{"filter": "datum.study == 5"}, {"aggregate": [{"op": "count", "as": "n"}]}], "mark": {"type": "point", "shape": "M0,0L0,1", "size": 144, "filled": false, "stroke": "#111", "strokeWidth": 1.4, "opacity": 1}, "encoding": {"y": {"datum": "brace", "type": "nominal", "axis": null}}},
  {"data": {"name": "table"}, "transform": [{"filter": "datum.study == 5 && indexof(datum.text, '|') < 0"}], "mark": {"type": "text", "fontSize": 17, "baseline": "middle", "align": "center", "color": "#111"}, "encoding": {"y": {"field": "row", "type": "nominal", "scale": {"type": "point", "domain": ["t0","t1","t2","t3","brace","b1","b2","Study","g1","g2","g3","Cancer","g5","g6","g7","g8","Fold","g10","g11","g12","g13","P"], "padding": 0.5}, "axis": null}, "text": {"field": "text"}}},
  {"data": {"name": "table"}, "transform": [{"filter": "datum.study == 5 && indexof(datum.text, '|') >= 0"}], "mark": {"type": "text", "fontSize": 17, "lineBreak": "|", "lineHeight": 23, "baseline": "middle", "align": "center", "dy": -11.5, "color": "#111"}, "encoding": {"y": {"field": "row", "type": "nominal", "axis": null}, "text": {"field": "text"}}}
 ]},
{"width": 104, "height": 154, "resolve": {"axis": {"x": "independent", "y": "independent"}},
 "layer": [
  {"data": {"name": "boxes"}, "transform": [{"filter": "datum.study == 6"}], "mark": {"type": "tick", "orient": "horizontal", "size": 26, "thickness": 1.4, "color": "#111"}, "encoding": {"x": {"field": "group", "type": "nominal", "scale": {"domain": ["N","Ca","Cb"], "paddingInner": 0, "paddingOuter": 0.551, "align": 0.369}, "axis": null}, "y": {"datum": "brace", "type": "nominal", "axis": null}}},
  {"data": {"name": "boxes"}, "transform": [{"filter": "datum.study == 6"}, {"window": [{"op": "row_number", "as": "rn"}]}, {"filter": "datum.rn == 1"}], "mark": {"type": "tick", "orient": "vertical", "size": 7, "thickness": 1.4, "yOffset": -3.5, "color": "#111"}, "encoding": {"x": {"field": "group", "type": "nominal", "bandPosition": 0, "axis": null}, "y": {"datum": "brace", "type": "nominal", "axis": null}}},
  {"data": {"name": "boxes"}, "transform": [{"filter": "datum.study == 6"}, {"joinaggregate": [{"op": "count", "as": "n"}]}, {"window": [{"op": "row_number", "as": "rn"}]}, {"filter": "datum.rn == datum.n"}], "mark": {"type": "tick", "orient": "vertical", "size": 7, "thickness": 1.4, "yOffset": -3.5, "color": "#111"}, "encoding": {"x": {"field": "group", "type": "nominal", "bandPosition": 1, "axis": null}, "y": {"datum": "brace", "type": "nominal", "axis": null}}},
  {"data": {"name": "boxes"}, "transform": [{"filter": "datum.study == 6"}, {"aggregate": [{"op": "count", "as": "n"}]}], "mark": {"type": "point", "shape": "M0,0L0,1", "size": 144, "filled": false, "stroke": "#111", "strokeWidth": 1.4, "opacity": 1}, "encoding": {"y": {"datum": "brace", "type": "nominal", "axis": null}}},
  {"data": {"name": "table"}, "transform": [{"filter": "datum.study == 6 && indexof(datum.text, '|') < 0"}], "mark": {"type": "text", "fontSize": 17, "baseline": "middle", "align": "center", "color": "#111"}, "encoding": {"y": {"field": "row", "type": "nominal", "scale": {"type": "point", "domain": ["t0","t1","t2","t3","brace","b1","b2","Study","g1","g2","g3","Cancer","g5","g6","g7","g8","Fold","g10","g11","g12","g13","P"], "padding": 0.5}, "axis": null}, "text": {"field": "text"}}},
  {"data": {"name": "table"}, "transform": [{"filter": "datum.study == 6 && indexof(datum.text, '|') >= 0"}], "mark": {"type": "text", "fontSize": 17, "lineBreak": "|", "lineHeight": 23, "baseline": "middle", "align": "center", "dy": -11.5, "color": "#111"}, "encoding": {"y": {"field": "row", "type": "nominal", "axis": null}, "text": {"field": "text"}}}
 ]},
{"width": 192, "height": 154, "resolve": {"axis": {"x": "independent", "y": "independent"}},
 "layer": [
  {"data": {"name": "boxes"}, "transform": [{"filter": "datum.study == 7"}], "mark": {"type": "tick", "orient": "horizontal", "size": 27, "thickness": 1.4, "color": "#111"}, "encoding": {"x": {"field": "group", "type": "nominal", "scale": {"domain": ["Na","Nb","Nc","Ca","Cb","Cc"], "paddingInner": 0, "paddingOuter": 0.6446, "align": 0.563}, "axis": null}, "y": {"datum": "brace", "type": "nominal", "axis": null}}},
  {"data": {"name": "boxes"}, "transform": [{"filter": "datum.study == 7"}, {"window": [{"op": "row_number", "as": "rn"}]}, {"filter": "datum.rn == 1"}], "mark": {"type": "tick", "orient": "vertical", "size": 7, "thickness": 1.4, "yOffset": -3.5, "color": "#111"}, "encoding": {"x": {"field": "group", "type": "nominal", "bandPosition": 0, "axis": null}, "y": {"datum": "brace", "type": "nominal", "axis": null}}},
  {"data": {"name": "boxes"}, "transform": [{"filter": "datum.study == 7"}, {"joinaggregate": [{"op": "count", "as": "n"}]}, {"window": [{"op": "row_number", "as": "rn"}]}, {"filter": "datum.rn == datum.n"}], "mark": {"type": "tick", "orient": "vertical", "size": 7, "thickness": 1.4, "yOffset": -3.5, "color": "#111"}, "encoding": {"x": {"field": "group", "type": "nominal", "bandPosition": 1, "axis": null}, "y": {"datum": "brace", "type": "nominal", "axis": null}}},
  {"data": {"name": "boxes"}, "transform": [{"filter": "datum.study == 7"}, {"aggregate": [{"op": "count", "as": "n"}]}], "mark": {"type": "point", "shape": "M0,0L0,1", "size": 144, "filled": false, "stroke": "#111", "strokeWidth": 1.4, "opacity": 1}, "encoding": {"y": {"datum": "brace", "type": "nominal", "axis": null}}},
  {"data": {"name": "table"}, "transform": [{"filter": "datum.study == 7 && indexof(datum.text, '|') < 0"}], "mark": {"type": "text", "fontSize": 17, "baseline": "middle", "align": "center", "color": "#111"}, "encoding": {"y": {"field": "row", "type": "nominal", "scale": {"type": "point", "domain": ["t0","t1","t2","t3","brace","b1","b2","Study","g1","g2","g3","Cancer","g5","g6","g7","g8","Fold","g10","g11","g12","g13","P"], "padding": 0.5}, "axis": null}, "text": {"field": "text"}}},
  {"data": {"name": "table"}, "transform": [{"filter": "datum.study == 7 && indexof(datum.text, '|') >= 0"}], "mark": {"type": "text", "fontSize": 17, "lineBreak": "|", "lineHeight": 23, "baseline": "middle", "align": "center", "dy": -11.5, "color": "#111"}, "encoding": {"y": {"field": "row", "type": "nominal", "axis": null}, "text": {"field": "text"}}}
 ]},
{"width": 203, "height": 154, "resolve": {"axis": {"x": "independent", "y": "independent"}},
 "layer": [
  {"data": {"name": "boxes"}, "transform": [{"filter": "datum.study == 8"}], "mark": {"type": "tick", "orient": "horizontal", "size": 25.9, "thickness": 1.4, "color": "#111"}, "encoding": {"x": {"field": "group", "type": "nominal", "scale": {"domain": ["N","Ca","Cb","Cc","Cd","Ce","Cf"], "paddingInner": 0, "paddingOuter": 0.515, "align": 0.64}, "axis": null}, "y": {"datum": "brace", "type": "nominal", "axis": null}}},
  {"data": {"name": "boxes"}, "transform": [{"filter": "datum.study == 8"}, {"window": [{"op": "row_number", "as": "rn"}]}, {"filter": "datum.rn == 1"}], "mark": {"type": "tick", "orient": "vertical", "size": 7, "thickness": 1.4, "yOffset": -3.5, "color": "#111"}, "encoding": {"x": {"field": "group", "type": "nominal", "bandPosition": 0, "axis": null}, "y": {"datum": "brace", "type": "nominal", "axis": null}}},
  {"data": {"name": "boxes"}, "transform": [{"filter": "datum.study == 8"}, {"joinaggregate": [{"op": "count", "as": "n"}]}, {"window": [{"op": "row_number", "as": "rn"}]}, {"filter": "datum.rn == datum.n"}], "mark": {"type": "tick", "orient": "vertical", "size": 7, "thickness": 1.4, "yOffset": -3.5, "color": "#111"}, "encoding": {"x": {"field": "group", "type": "nominal", "bandPosition": 1, "axis": null}, "y": {"datum": "brace", "type": "nominal", "axis": null}}},
  {"data": {"name": "boxes"}, "transform": [{"filter": "datum.study == 8"}, {"aggregate": [{"op": "count", "as": "n"}]}], "mark": {"type": "point", "shape": "M0,0L0,1", "size": 144, "filled": false, "stroke": "#111", "strokeWidth": 1.4, "opacity": 1}, "encoding": {"y": {"datum": "brace", "type": "nominal", "axis": null}}},
  {"data": {"name": "table"}, "transform": [{"filter": "datum.study == 8 && indexof(datum.text, '|') < 0"}], "mark": {"type": "text", "fontSize": 17, "baseline": "middle", "align": "center", "color": "#111"}, "encoding": {"y": {"field": "row", "type": "nominal", "scale": {"type": "point", "domain": ["t0","t1","t2","t3","brace","b1","b2","Study","g1","g2","g3","Cancer","g5","g6","g7","g8","Fold","g10","g11","g12","g13","P"], "padding": 0.5}, "axis": null}, "text": {"field": "text"}}},
  {"data": {"name": "table"}, "transform": [{"filter": "datum.study == 8 && indexof(datum.text, '|') >= 0"}], "mark": {"type": "text", "fontSize": 17, "lineBreak": "|", "lineHeight": 23, "baseline": "middle", "align": "center", "dy": -11.5, "color": "#111"}, "encoding": {"y": {"field": "row", "type": "nominal", "axis": null}, "text": {"field": "text"}}}
 ]}
]
}
